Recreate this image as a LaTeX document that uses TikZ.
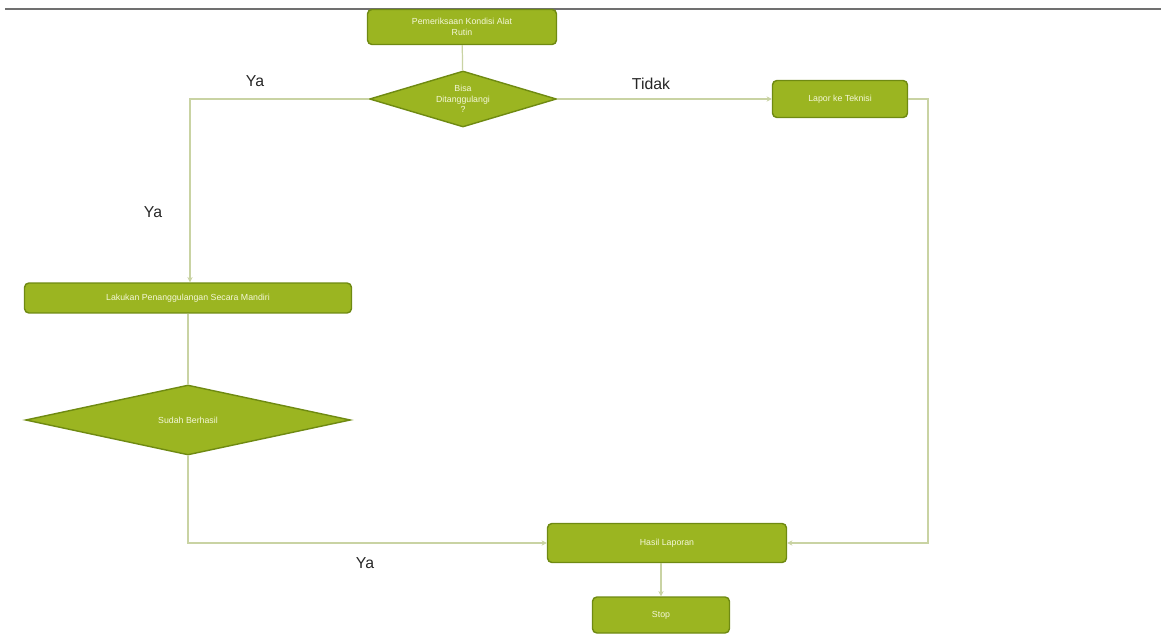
\documentclass[tikz,border=0pt]{standalone}
\usepackage{fontspec}
\setmainfont{Liberation Sans}
\usetikzlibrary{shapes.geometric,arrows.meta}
\definecolor{boxfill}{HTML}{9BB521}
\definecolor{boxline}{HTML}{6F8A12}
\definecolor{conn}{HTML}{C9D3A3}
\definecolor{txt}{HTML}{F4F7D8}
\definecolor{topline}{HTML}{707070}
\tikzset{
  procbox/.style={draw=boxline, line width=0.8pt, fill=boxfill, rounded corners=2.5pt,
    text=txt, font=\fontsize{5}{6}\selectfont, align=center, inner sep=1pt},
  decbox/.style={draw=boxline, line width=0.8pt, fill=boxfill, shape=diamond,
    text=txt, font=\fontsize{5}{6}\selectfont, align=center, inner sep=0pt},
  link/.style={draw=conn, line width=0.7pt, -{Stealth[length=3pt,width=3pt]}},
  plain/.style={draw=conn, line width=0.7pt},
  lbl/.style={font=\fontsize{9}{10}\selectfont, text=black!85}
}
\begin{document}
\begin{tikzpicture}[x=0.02cm,y=-0.02cm]
\useasboundingbox (0,0) rectangle (1161,639);
\draw[topline, line width=1.2pt] (5,9) -- (1161,9);

\node[procbox, minimum width=3.78cm, minimum height=0.70cm] (start) at (462,27)
  {Pemeriksaan Kondisi Alat\\Rutin};
\node[decbox, aspect=3.4, minimum width=3.74cm, minimum height=1.12cm] (d1) at (463,99)
  {Bisa\\Ditanggulangi\\?};
\node[procbox, minimum width=2.70cm, minimum height=0.74cm] (lapor) at (840,99)
  {Lapor ke Teknisi};
\node[procbox, minimum width=6.54cm, minimum height=0.60cm] (mandiri) at (188,298)
  {Lakukan Penanggulangan Secara Mandiri};
\node[decbox, aspect=4.6, minimum width=6.50cm, minimum height=1.40cm] (d2) at (188,420)
  {Sudah Berhasil};
\node[procbox, minimum width=4.78cm, minimum height=0.78cm] (hasil) at (667,543)
  {Hasil Laporan};
\node[procbox, minimum width=2.74cm, minimum height=0.72cm] (stop) at (661,615)
  {Stop};

\coordinate (c1) at (190,99);
\coordinate (c2) at (928,99);
\coordinate (c3) at (928,543);
\coordinate (c4) at (188,543);

\draw[plain] (start) -- (d1);
\draw[link] (d1.west) -- (c1) -- (mandiri.north -| c1);
\draw[link] (d1.east) -- (lapor.west);
\draw[link] (lapor.east) -- (c2) -- (c3) -- (hasil.east);
\draw[plain] (mandiri) -- (d2);
\draw[link] (d2.south) -- (c4) -- (hasil.west);
\draw[link] (hasil.south -| stop) -- (stop);

\node[lbl] (l1) at (255,81) {Ya};
\node[lbl] (l2) at (153,212) {Ya};
\node[lbl] (l3) at (651,84) {Tidak};
\node[lbl] (l4) at (365,563) {Ya};
\end{tikzpicture}
\end{document}
